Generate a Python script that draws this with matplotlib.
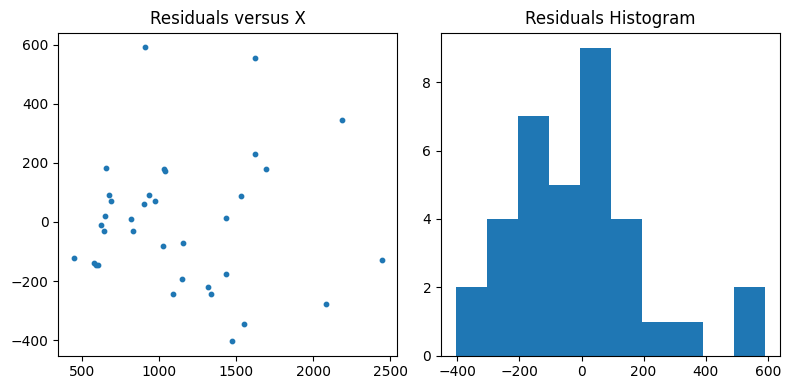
import numpy as np
import matplotlib
matplotlib.use("Agg")
import matplotlib.pyplot as plt

# x values and residuals
x_vals = [906, 653, 1027, 1036, 672, 685, 936, 971, 900, 647,
          621, 640, 813, 828, 1023, 1152, 444, 573, 588, 601,
          1146, 1088, 1315, 1334, 1619, 2184, 1619, 1691, 1529, 1431,
          2443, 1431, 2080, 1548, 1470]
residuals = [591, 183, 179, 173, 92, 72, 92, 72, 62, 21,
             -9, -32, 11, -29, -80, -70, -123, -140, -146, -144,
             -194, -245, -221, -245, 554, 345, 231, 180, 89, 15,
             -130, -177, -278, -346, -403]

fig = plt.figure(figsize=(7.89, 3.9), dpi=100)

# scatter of residuals against x
ax1 = fig.add_axes([0.0739, 0.088, 0.4293, 0.828])
ax1.scatter(x_vals, residuals, s=10)
ax1.set_title("Residuals versus X")

# histogram of residuals
ax2 = fig.add_axes([0.559, 0.088, 0.430, 0.828])
ax2.hist(residuals)
ax2.set_title("Residuals Histogram")

fig.savefig("out.png", dpi=100)
